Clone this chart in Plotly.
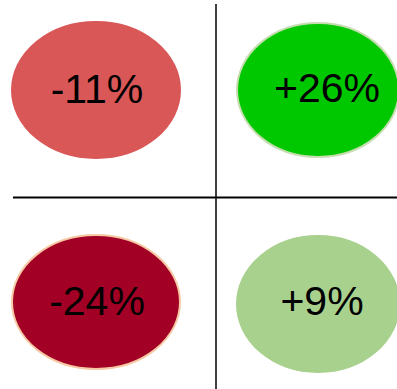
import plotly.graph_objects as go

# Data
labels = ["-11%", "+26%", "-24%", "+9%"]
changes = [-11, 26, -24, 9]
fill_colors = ["#D95757", "#00C800", "#A20025", "#A9D18E"]
outline_colors = ["#D95757", "#C5DDB0", "#F6C9A4", "#A9D18E"]

# Layout (pixel-like coordinate system)
W, H = 397, 389
ell_cx = [96, 318, 96, 318]
ell_cy = [90, 90, 302, 304]
ell_rx = [84, 81, 84, 81]
ell_ry = [68, 67, 67, 68]
txt_x = [97, 327, 97, 322]
txt_y = [93, 92, 305, 305]

fig = go.Figure()
shapes = []
for i in range(len(labels)):
    shapes.append(dict(
        type="circle", xref="x", yref="y",
        x0=ell_cx[i] - ell_rx[i], x1=ell_cx[i] + ell_rx[i],
        y0=ell_cy[i] - ell_ry[i], y1=ell_cy[i] + ell_ry[i],
        fillcolor=fill_colors[i],
        line=dict(color=outline_colors[i], width=2),
        layer="below",
    ))
# quadrant dividers
shapes.append(dict(type="line", xref="x", yref="y", x0=216, x1=216, y0=4, y1=389,
                   line=dict(color="black", width=1.5)))
shapes.append(dict(type="line", xref="x", yref="y", x0=13, x1=397, y0=197.5, y1=197.5,
                   line=dict(color="black", width=2)))

fig.add_trace(go.Scatter(
    x=txt_x, y=txt_y, mode="text", text=labels,
    textfont=dict(family="Liberation Sans, Arial, sans-serif", size=41, color="black"),
    textposition="middle center", hoverinfo="skip", showlegend=False,
))

fig.update_layout(
    width=W, height=H,
    margin=dict(l=0, r=0, t=0, b=0),
    paper_bgcolor="white", plot_bgcolor="white",
    shapes=shapes,
    xaxis=dict(range=[0, W], visible=False, fixedrange=True),
    yaxis=dict(range=[H, 0], visible=False, fixedrange=True),
    showlegend=False,
)

fig.write_html(
    "out.html",
    config={"displayModeBar": False},
    post_script="document.body.style.margin='0';document.body.style.overflow='hidden';",
)
